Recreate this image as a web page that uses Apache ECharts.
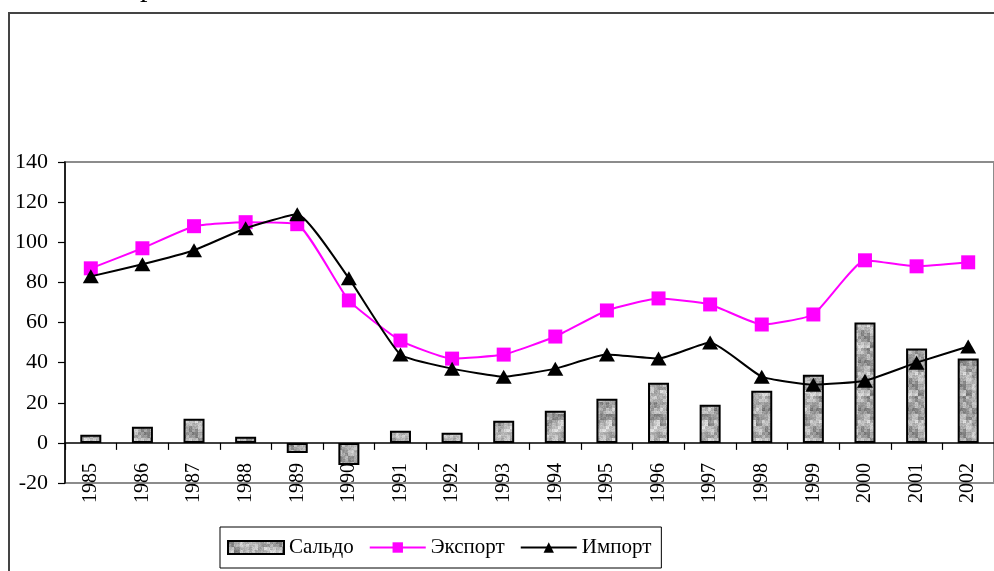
<!DOCTYPE html>
<html>
<head>
<meta charset="utf-8">
<script src="https://cdn.jsdelivr.net/npm/echarts@6/dist/echarts.min.js"></script>
<style>
  html, body { margin: 0; padding: 0; background: #fff; }
  #chart { width: 994px; height: 571px; }
</style>
</head>
<body>
<div id="chart"></div>
<script>
// Годы и показатели
const years = ['1985','1986','1987','1988','1989','1990','1991','1992','1993','1994','1995','1996','1997','1998','1999','2000','2001','2002'];
const saldo  = [4, 8, 12, 3, -5, -11, 6, 5, 11, 16, 22, 30, 19, 26, 34, 60, 47, 42];
const exportVals = [87, 97, 108, 110, 109, 71, 51, 42, 44, 53, 66, 72, 69, 59, 64, 91, 88, 90];
const importVals = [83, 89, 96, 107, 114, 82, 44, 37, 33, 37, 44, 42, 50, 33, 29, 31, 40, 48];
const yTicks = { min: -20, max: 140, step: 20 };

// Mottled gray fill for the bars (deterministic hash-based texture)
function makeTexture() {
  const c = document.createElement('canvas');
  const n = 48;
  c.width = n; c.height = n;
  const ctx = c.getContext('2d');
  const h = (x, y) => {
    const s = Math.sin(x * 127.1 + y * 311.7) * 43758.5453;
    return s - Math.floor(s);
  };
  for (let y = 0; y < n; y++) {
    for (let x = 0; x < n; x++) {
      const big = h(Math.floor(x / 6), Math.floor(y / 6));
      const mid = h(Math.floor(x / 3) + 11, Math.floor(y / 3) + 5);
      const fine = h(x, y);
      const v = 0.45 * big + 0.35 * mid + 0.2 * fine;
      const g = Math.round(100 + v * 140);
      ctx.fillStyle = 'rgb(' + g + ',' + g + ',' + g + ')';
      ctx.fillRect(x, y, 1, 1);
    }
  }
  return c;
}
const tex = makeTexture();

const font = 'Liberation Serif';
const chart = echarts.init(document.getElementById('chart'), null, { renderer: 'canvas' });

chart.setOption({
  animation: false,
  backgroundColor: '#fff',
  textStyle: { fontFamily: font, color: '#000' },
  grid: {
    left: 65, top: 162, width: 945, height: 321,
    show: true, borderColor: '#8c8c8c', borderWidth: 2, backgroundColor: 'transparent'
  },
  legend: {
    left: 220, top: 527,
    padding: [10, 10, 10, 7],
    borderColor: '#000', borderWidth: 1,
    itemWidth: 56, itemHeight: 13, itemGap: 15,
    textStyle: { fontFamily: font, fontSize: 21, color: '#000' },
    data: [
      { name: 'Сальдо', icon: 'rect' },
      { name: 'Экспорт' },
      { name: 'Импорт' }
    ]
  },
  xAxis: {
    type: 'category',
    data: years,
    boundaryGap: true,
    axisLine: { onZero: true, lineStyle: { color: '#000', width: 1.5 } },
    axisTick: { show: true, length: 7, interval: 0, lineStyle: { color: '#000', width: 1.2 } },
    axisLabel: { interval: 0, rotate: 90, margin: -20, fontSize: 20, fontFamily: font, color: '#000' },
    splitLine: { show: false }
  },
  yAxis: {
    type: 'value',
    min: yTicks.min, max: yTicks.max, interval: yTicks.step,
    axisLine: { show: true, lineStyle: { color: '#000', width: 1.5 } },
    axisTick: { show: true, length: 7, lineStyle: { color: '#000', width: 1.2 } },
    axisLabel: { margin: 17, fontSize: 22, fontFamily: font, color: '#000' },
    splitLine: { show: false }
  },
  graphic: [
    {
      type: 'rect', silent: true, z: -1,
      shape: { x: 9, y: 13, width: 1200, height: 800 },
      style: { fill: 'transparent', stroke: '#444', lineWidth: 2 }
    },
    {
      type: 'text', silent: true,
      left: 140, top: -27,
      style: { text: 'р', font: '30px "Liberation Serif"', fill: '#000' }
    }
  ],
  series: [
    {
      name: 'Сальдо',
      type: 'bar',
      data: saldo,
      barWidth: 21,
      itemStyle: {
        color: { image: tex, repeat: 'repeat' },
        borderColor: '#000', borderWidth: 2
      },
      z: 2
    },
    {
      name: 'Экспорт',
      type: 'line',
      data: exportVals,
      smooth: 0.15,
      symbol: 'rect',
      symbolSize: 14,
      lineStyle: { color: '#ff00ff', width: 2 },
      itemStyle: { color: '#ff00ff', borderWidth: 0 },
      z: 3
    },
    {
      name: 'Импорт',
      type: 'line',
      data: importVals,
      smooth: 0.15,
      symbol: 'triangle',
      symbolSize: [16, 14],
      lineStyle: { color: '#000', width: 2 },
      itemStyle: { color: '#000', borderWidth: 0 },
      z: 4
    }
  ]
});
</script>
</body>
</html>
